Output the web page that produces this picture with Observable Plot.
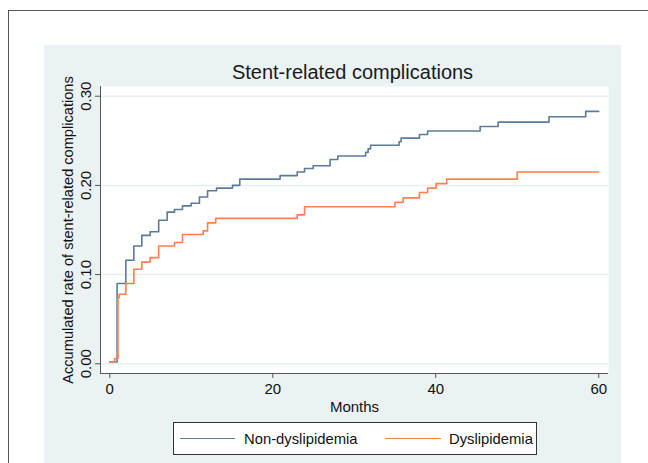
<!DOCTYPE html>
<html>
<head>
<meta charset="utf-8">
<script src="https://cdn.jsdelivr.net/npm/d3@7"></script>
<script src="https://cdn.jsdelivr.net/npm/@observablehq/plot@0.6"></script>
<style>
  html, body { margin: 0; padding: 0; background: #fff; }
  #wrap { position: relative; width: 648px; height: 463px; overflow: hidden; background: #fff;
          font-family: "Liberation Sans", Arial, sans-serif; }
  #border { position: absolute; left: 8px; top: 10px; width: 700px; height: 500px;
            border-top: 1px solid #555; border-left: 1px solid #555; }
  #panel { position: absolute; left: 44px; top: 45px; width: 577px; height: 440px; background: #EAF2F3; }
  #chart { position: absolute; left: 0; top: 0; }
  #legend { position: absolute; left: 173px; top: 422px; width: 364px; height: 33px;
            background: #fff; border: 1px solid #333; box-sizing: border-box; }
  .sw { position: absolute; top: 15px; height: 0; border-top: 1.6px solid; }
  .lt { position: absolute; top: 6px; font-size: 14.8px; color: #111; line-height: 20px; white-space: nowrap; }
</style>
</head>
<body>
<div id="wrap">
  <div id="border"></div>
  <div id="panel"></div>
  <div id="chart"></div>
  <div id="legend"></div>
</div>
<script>
// ---- data ----
const title = "Stent-related complications";
const xLabel = "Months";
const yLabel = "Accumulated rate of stent-related complications";
const seriesNames = ["Non-dyslipidemia", "Dyslipidemia"];
const seriesColors = ["#5B7B9C", "#FF7F4F"];

const monthsNon = [0, 0.9, 1.97, 2.95, 3.93, 4.95, 6.0, 7.04, 7.94, 8.92, 9.98, 11.0, 12.0, 13.1, 15.06, 15.95, 20.9, 23.0, 23.9, 24.96, 27.04, 27.98, 31.4, 31.7, 32.0, 35.5, 35.75, 38.0, 39.0, 45.45, 47.66, 53.9, 58.4, 60];
const rateNon   = [0.002, 0.090, 0.116, 0.132, 0.144, 0.148, 0.161, 0.170, 0.173, 0.177, 0.180, 0.187, 0.194, 0.197, 0.200, 0.207, 0.211, 0.215, 0.219, 0.222, 0.229, 0.233, 0.237, 0.241, 0.245, 0.249, 0.253, 0.257, 0.261, 0.266, 0.271, 0.277, 0.283, 0.283];

const monthsDys = [0, 0.58, 1.0, 1.15, 1.97, 2.95, 3.93, 4.95, 6.0, 7.94, 8.92, 11.46, 12.0, 13.0, 23.0, 23.9, 35.0, 36.0, 38.0, 39.0, 40.05, 41.35, 50.0, 60];
const rateDys   = [0.002, 0.006, 0.074, 0.078, 0.090, 0.106, 0.114, 0.119, 0.132, 0.136, 0.145, 0.149, 0.158, 0.163, 0.167, 0.176, 0.181, 0.186, 0.192, 0.197, 0.202, 0.207, 0.215, 0.215];

const xTicks = [0, 20, 40, 60];
const yTicks = [0, 0.1, 0.2, 0.3];
const xDomain = [-1.14, 61.2];
const yDomain = [-0.0109, 0.3109];

// ---- build table ----
const data = [
  ...monthsNon.map((t, i) => ({t, v: rateNon[i], s: seriesNames[0]})),
  ...monthsDys.map((t, i) => ({t, v: rateDys[i], s: seriesNames[1]}))
];

const font = "Liberation Sans, Arial, sans-serif";
const axisColor = "#555";
const textColor = "#111";

const chart = Plot.plot({
  width: 648,
  height: 463,
  marginLeft: 100,
  marginRight: 40,
  marginTop: 86,
  marginBottom: 90,
  style: {background: "transparent", fontFamily: font, fontSize: "15px", color: textColor},
  x: {domain: xDomain},
  y: {domain: yDomain},
  color: {domain: seriesNames, range: seriesColors},
  marks: [
    Plot.frame({fill: "white", stroke: "none"}),
    Plot.ruleY(yTicks, {stroke: "#E6EEF1", strokeWidth: 1.5}),
    Plot.line(data, {x: "t", y: "v", z: "s", stroke: "s", curve: "step-after", strokeWidth: 1.6}),
    Plot.ruleX([xDomain[0]], {stroke: axisColor, strokeWidth: 1}),
    Plot.ruleY([yDomain[0]], {stroke: axisColor, strokeWidth: 1}),
    Plot.axisX({ticks: xTicks, tickSize: 5, tickPadding: 4.5, stroke: axisColor, fill: textColor,
                fontSize: 15, label: null, tickFormat: d => String(d)}),
    Plot.axisY({ticks: yTicks, tickSize: 5, stroke: axisColor, label: null, tickFormat: () => ""}),
    Plot.text(yTicks, {y: d => d, text: d => d.toFixed(2), frameAnchor: "left", rotate: -90,
                       textAnchor: "middle", lineAnchor: "middle", dx: -14.8, fontSize: 15, fill: textColor}),
    Plot.text([yLabel], {frameAnchor: "left", rotate: -90, textAnchor: "middle", lineAnchor: "middle",
                         dx: -32.4, fontSize: 14.6, fill: textColor}),
    Plot.text([xLabel], {frameAnchor: "bottom", textAnchor: "middle", lineAnchor: "middle",
                         dy: 33.4, fontSize: 15, fill: textColor}),
    Plot.text([title], {frameAnchor: "top", textAnchor: "middle", lineAnchor: "middle",
                        dy: -13.8, dx: -2, fontSize: 20, fill: "#1a1a1a"})
  ]
});
document.getElementById("chart").appendChild(chart);

// ---- legend ----
const legend = document.getElementById("legend");
const legendItems = [
  {name: seriesNames[0], color: seriesColors[0], lineLeft: 6, lineWidth: 55, textLeft: 70},
  {name: seriesNames[1], color: seriesColors[1], lineLeft: 211, lineWidth: 56, textLeft: 275}
];
legendItems.forEach(it => {
  const sw = document.createElement("div");
  sw.className = "sw";
  sw.style.left = it.lineLeft + "px";
  sw.style.width = it.lineWidth + "px";
  sw.style.borderTopColor = it.color;
  legend.appendChild(sw);
  const lt = document.createElement("div");
  lt.className = "lt";
  lt.style.left = it.textLeft + "px";
  lt.textContent = it.name;
  legend.appendChild(lt);
});
</script>
</body>
</html>
